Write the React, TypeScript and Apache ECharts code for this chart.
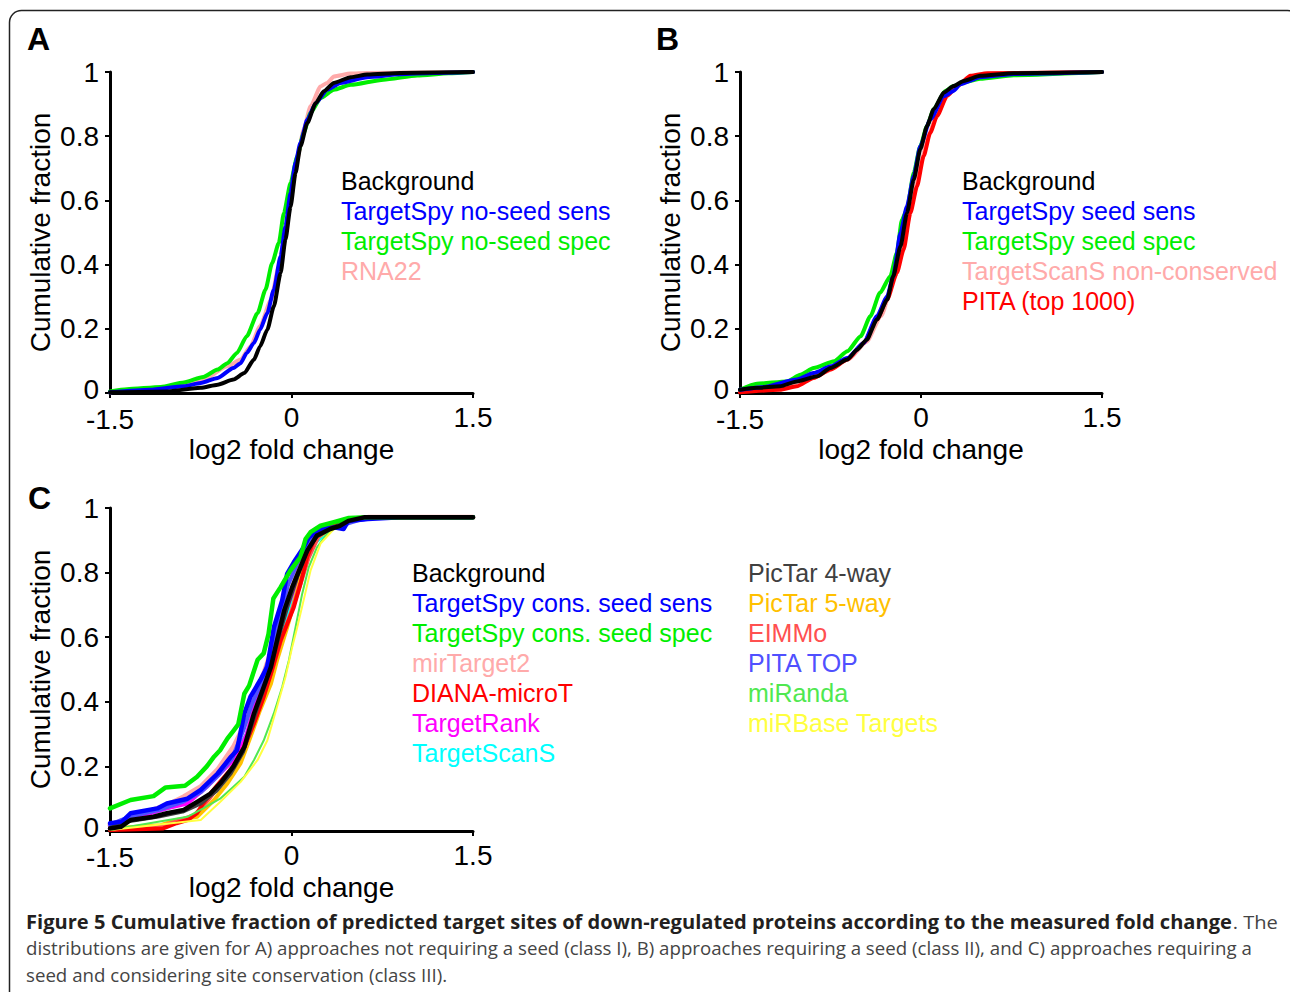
import React, { useEffect, useRef } from "react";
import * as echarts from "echarts";

// ---------------- Panel A: approaches not requiring a seed ----------------
const A_bg_x = [-1.5, -1.03, -0.75, -0.61, -0.48, -0.39, -0.31, -0.26, -0.2, -0.146, -0.09, -0.05, -0.008, 0.033, 0.074, 0.13, 0.2, 0.267, 0.35, 0.49, 0.626, 0.9, 1.5];
const A_bg_y = [0.002, 0.005, 0.016, 0.026, 0.042, 0.062, 0.104, 0.145, 0.197, 0.27, 0.374, 0.478, 0.58, 0.685, 0.768, 0.841, 0.903, 0.94, 0.966, 0.984, 0.992, 0.997, 1.0];
const A_sens_x = [-1.5, -1.17, -0.89, -0.75, -0.61, -0.48, -0.42, -0.37, -0.31, -0.26, -0.2, -0.146, -0.09, -0.05, -0.008, 0.033, 0.074, 0.13, 0.2, 0.295, 0.405, 0.626, 0.9, 1.17, 1.5];
const A_sens_y = [0.002, 0.01, 0.021, 0.031, 0.047, 0.078, 0.093, 0.125, 0.156, 0.197, 0.249, 0.322, 0.426, 0.519, 0.623, 0.717, 0.779, 0.851, 0.903, 0.945, 0.966, 0.984, 0.993, 0.997, 1.0];
const A_spec_x = [-1.5, -1.36, -1.08, -0.89, -0.73, -0.61, -0.53, -0.45, -0.37, -0.28, -0.215, -0.16, -0.105, -0.063, -0.008, 0.047, 0.1, 0.157, 0.24, 0.35, 0.49, 0.76, 1.04, 1.3, 1.5];
const A_spec_y = [0.005, 0.012, 0.019, 0.033, 0.05, 0.073, 0.093, 0.125, 0.177, 0.249, 0.322, 0.405, 0.467, 0.56, 0.654, 0.737, 0.81, 0.872, 0.919, 0.945, 0.96, 0.976, 0.989, 0.996, 1.0];
const A_rna22_x = [-1.5, -1.03, -0.75, -0.53, -0.42, -0.34, -0.26, -0.17, -0.105, -0.05, -0.008, 0.047, 0.1, 0.157, 0.24, 0.295, 0.35, 0.49, 0.626, 1.5];
const A_rna22_y = [0.002, 0.016, 0.036, 0.083, 0.104, 0.145, 0.208, 0.29, 0.395, 0.498, 0.6, 0.727, 0.82, 0.893, 0.955, 0.966, 0.986, 0.995, 0.997, 1.0];

// ---------------- Panel B: approaches requiring a seed ----------------
const B_bg_x = [-1.5, -1.36, -1.17, -1.03, -0.86, -0.75, -0.61, -0.53, -0.45, -0.365, -0.28, -0.23, -0.17, -0.116, -0.06, -0.006, 0.05, 0.105, 0.19, 0.27, 0.354, 0.49, 0.77, 1.5];
const B_bg_y = [0.01, 0.016, 0.021, 0.036, 0.052, 0.078, 0.104, 0.135, 0.166, 0.229, 0.291, 0.364, 0.457, 0.561, 0.665, 0.759, 0.832, 0.884, 0.936, 0.956, 0.972, 0.988, 0.996, 1.0];
const B_sens_x = [-1.5, -1.3, -1.03, -0.89, -0.75, -0.61, -0.475, -0.365, -0.28, -0.23, -0.17, -0.116, -0.06, -0.006, 0.077, 0.19, 0.27, 0.326, 0.49, 0.77, 1.5];
const B_sens_y = [0.01, 0.019, 0.042, 0.062, 0.083, 0.109, 0.156, 0.239, 0.301, 0.364, 0.499, 0.582, 0.676, 0.769, 0.852, 0.925, 0.941, 0.962, 0.984, 0.994, 1.0];
const B_spec_x = [-1.5, -1.36, -1.11, -1.0, -0.89, -0.72, -0.61, -0.5, -0.42, -0.34, -0.254, -0.2, -0.158, -0.116, -0.06, -0.006, 0.05, 0.105, 0.2, 0.27, 0.354, 0.49, 0.77, 1.5];
const B_spec_y = [0.01, 0.029, 0.036, 0.057, 0.078, 0.099, 0.13, 0.177, 0.239, 0.312, 0.364, 0.437, 0.54, 0.572, 0.686, 0.769, 0.832, 0.884, 0.941, 0.956, 0.968, 0.979, 0.99, 1.0];
const B_tsnc_x = [-1.5, -1.2, -1.0, -0.8, -0.6, -0.45, -0.33, -0.22, -0.14, -0.07, 0.0, 0.06, 0.13, 0.22, 0.33, 0.5, 0.8, 1.5];
const B_tsnc_y = [0.005, 0.015, 0.035, 0.065, 0.105, 0.16, 0.24, 0.36, 0.48, 0.6, 0.72, 0.8, 0.87, 0.93, 0.965, 0.988, 0.996, 1.0];
const B_pita_x = [-1.5, -1.17, -1.03, -0.89, -0.75, -0.61, -0.475, -0.365, -0.28, -0.2, -0.144, -0.088, -0.033, 0.022, 0.077, 0.133, 0.216, 0.3, 0.41, 0.55, 1.5];
const B_pita_y = [0.002, 0.01, 0.021, 0.047, 0.073, 0.104, 0.156, 0.229, 0.291, 0.374, 0.447, 0.561, 0.644, 0.738, 0.811, 0.863, 0.925, 0.956, 0.988, 0.996, 1.0];

// ---------------- Panel C: seed + site conservation ----------------
const C_bg_x = [-1.5, -1.41, -1.33, -1.14, -1.03, -0.89, -0.78, -0.67, -0.59, -0.48, -0.39, -0.31, -0.23, -0.17, -0.12, -0.06, 0.006, 0.074, 0.13, 0.21, 0.32, 0.4, 0.47, 0.6, 1.5];
const C_bg_y = [0.008, 0.013, 0.034, 0.044, 0.055, 0.065, 0.09, 0.116, 0.147, 0.2, 0.26, 0.364, 0.446, 0.508, 0.59, 0.683, 0.755, 0.817, 0.868, 0.915, 0.935, 0.945, 0.96, 0.971, 0.971];
const C_sens_x = [-1.5, -1.4, -1.33, -1.11, -1.03, -0.86, -0.75, -0.61, -0.5, -0.45, -0.39, -0.34, -0.26, -0.2, -0.146, -0.077, -0.036, 0.019, 0.1, 0.143, 0.24, 0.35, 0.43, 0.47, 0.63, 0.9, 1.5];
const C_sens_y = [0.024, 0.029, 0.055, 0.07, 0.085, 0.1, 0.127, 0.178, 0.23, 0.25, 0.364, 0.415, 0.466, 0.508, 0.63, 0.714, 0.796, 0.832, 0.878, 0.909, 0.935, 0.94, 0.935, 0.96, 0.966, 0.971, 0.971];
const C_spec_x = [-1.5, -1.33, -1.14, -1.04, -0.88, -0.78, -0.7, -0.64, -0.59, -0.53, -0.48, -0.44, -0.39, -0.35, -0.28, -0.23, -0.19, -0.15, -0.09, -0.01, 0.074, 0.116, 0.157, 0.24, 0.35, 0.474, 0.63, 1.5];
const C_spec_y = [0.07, 0.096, 0.108, 0.135, 0.14, 0.168, 0.2, 0.23, 0.25, 0.286, 0.31, 0.33, 0.425, 0.45, 0.53, 0.55, 0.61, 0.72, 0.755, 0.806, 0.848, 0.904, 0.925, 0.945, 0.956, 0.969, 0.971, 0.971];
const C_mirt2_x = [-1.5, -1.3, -1.03, -0.89, -0.75, -0.61, -0.48, -0.37, -0.28, -0.23, -0.146, -0.06, 0.019, 0.1, 0.185, 0.295, 0.49, 0.63, 1.5];
const C_mirt2_y = [0.018, 0.045, 0.08, 0.106, 0.137, 0.19, 0.26, 0.343, 0.436, 0.487, 0.58, 0.683, 0.765, 0.858, 0.92, 0.945, 0.966, 0.971, 0.971];
const C_diana_x = [-1.5, -1.06, -0.95, -0.86, -0.78, -0.73, -0.67, -0.59, -0.48, -0.39, -0.31, -0.23, -0.17, -0.09, -0.036, 0.019, 0.074, 0.13, 0.185, 0.24, 0.35, 0.49, 0.63, 1.5];
const C_diana_y = [0.003, 0.008, 0.024, 0.034, 0.055, 0.085, 0.116, 0.152, 0.2, 0.26, 0.333, 0.415, 0.487, 0.59, 0.64, 0.693, 0.765, 0.848, 0.9, 0.93, 0.95, 0.966, 0.971, 0.971];
const C_trank_x = [-1.5, -1.3, -1.03, -0.86, -0.7, -0.56, -0.45, -0.37, -0.28, -0.2, -0.12, -0.036, 0.047, 0.13, 0.21, 0.35, 0.49, 0.63, 1.5];
const C_trank_y = [0.013, 0.04, 0.07, 0.085, 0.137, 0.19, 0.23, 0.3, 0.415, 0.497, 0.6, 0.693, 0.775, 0.868, 0.92, 0.945, 0.966, 0.971, 0.971];
const C_tscan_x = [-1.5, -1.3, -1.03, -0.86, -0.7, -0.59, -0.48, -0.37, -0.28, -0.2, -0.12, -0.036, 0.047, 0.116, 0.185, 0.295, 0.4, 0.52, 0.63, 1.5];
const C_tscan_y = [0.018, 0.04, 0.07, 0.09, 0.137, 0.178, 0.225, 0.3, 0.384, 0.466, 0.57, 0.672, 0.755, 0.827, 0.89, 0.925, 0.95, 0.966, 0.971, 0.971];
const C_pic4_x = [-1.5, -1.35, -1.1, -0.9, -0.75, -0.62, -0.5, -0.4, -0.32, -0.24, -0.17, -0.1, -0.03, 0.05, 0.12, 0.2, 0.32, 0.47, 0.6, 1.5];
const C_pic4_y = [0.01, 0.03, 0.045, 0.06, 0.085, 0.125, 0.18, 0.245, 0.34, 0.43, 0.51, 0.61, 0.7, 0.79, 0.86, 0.91, 0.935, 0.96, 0.971, 0.971];
const C_pic5_x = [-1.5, -1.08, -0.95, -0.78, -0.64, -0.53, -0.42, -0.34, -0.26, -0.17, -0.12, -0.036, 0.03, 0.09, 0.15, 0.22, 0.32, 0.47, 0.6, 1.5];
const C_pic5_y = [0.008, 0.018, 0.034, 0.044, 0.096, 0.147, 0.21, 0.29, 0.374, 0.456, 0.528, 0.63, 0.72, 0.8, 0.86, 0.91, 0.935, 0.96, 0.971, 0.971];
const C_eimmo_x = [-1.5, -1.1, -0.95, -0.8, -0.68, -0.58, -0.47, -0.38, -0.3, -0.22, -0.15, -0.08, 0.0, 0.07, 0.14, 0.22, 0.33, 0.48, 0.62, 1.5];
const C_eimmo_y = [0.005, 0.012, 0.03, 0.05, 0.1, 0.15, 0.205, 0.27, 0.345, 0.43, 0.51, 0.6, 0.68, 0.76, 0.845, 0.91, 0.945, 0.965, 0.971, 0.971];
const C_pitatop_x = [-1.5, -1.33, -1.1, -0.9, -0.75, -0.6, -0.49, -0.4, -0.33, -0.25, -0.18, -0.1, -0.03, 0.05, 0.13, 0.24, 0.4, 0.55, 0.7, 1.5];
const C_pitatop_y = [0.02, 0.045, 0.065, 0.09, 0.12, 0.175, 0.225, 0.31, 0.39, 0.46, 0.54, 0.66, 0.76, 0.83, 0.89, 0.93, 0.945, 0.962, 0.971, 0.971];
const C_miranda_x = [-1.5, -0.86, -0.73, -0.59, -0.48, -0.39, -0.31, -0.23, -0.146, -0.077, -0.022, 0.033, 0.088, 0.143, 0.21, 0.295, 0.4, 0.52, 0.63, 1.5];
const C_miranda_y = [0.003, 0.044, 0.07, 0.1, 0.137, 0.168, 0.22, 0.28, 0.364, 0.446, 0.528, 0.63, 0.734, 0.817, 0.878, 0.92, 0.95, 0.966, 0.971, 0.971];
const C_mirbase_x = [-1.5, -0.75, -0.59, -0.42, -0.28, -0.2, -0.12, -0.05, 0.006, 0.047, 0.1, 0.157, 0.24, 0.35, 0.49, 0.63, 1.5];
const C_mirbase_y = [0.003, 0.034, 0.09, 0.152, 0.22, 0.28, 0.384, 0.477, 0.57, 0.63, 0.714, 0.806, 0.89, 0.935, 0.96, 0.971, 0.971];

const X_TICKS_MIN = -1.5;
const X_TICKS_MAX = 1.5;
const X_TICK_STEP = 1.5;
const Y_TICK_STEP = 0.2;

const CAPTION_BOLD = "Figure 5 Cumulative fraction of predicted target sites of down-regulated proteins according to the measured fold change";
const CAPTION_L1_REST = ". The";
const CAPTION_L2 = "distributions are given for A) approaches not requiring a seed (class I), B) approaches requiring a seed (class II), and C) approaches requiring a";
const CAPTION_L3 = "seed and considering site conservation (class III).";

const FONT = '"Liberation Sans", Arial, sans-serif';
const CAP_FONT = '"Open Sans", "Noto Sans", sans-serif';

const zip = (xs: number[], ys: number[]) => xs.map((x, i) => [x, ys[i]]);

function measure(text: string, font: string): number {
  const c = document.createElement("canvas");
  const ctx = c.getContext("2d");
  if (!ctx) return text.length * 9;
  ctx.font = font;
  return ctx.measureText(text).width;
}

export default function App() {
  const ref = useRef<HTMLDivElement>(null);

  useEffect(() => {
    if (!ref.current) return;
    const chart = echarts.init(ref.current, undefined, { renderer: "svg" });

    const grids = [
      { left: 110, top: 72, width: 363, height: 321 },
      { left: 740, top: 72, width: 362, height: 321 },
      { left: 110, top: 508, width: 363, height: 323 },
    ];

    const labelBase = { fontSize: 28, color: "#000", fontFamily: FONT, lineHeight: 31 };

    const xAxes = grids.map((_, i) => ({
      gridIndex: i,
      type: "value",
      min: X_TICKS_MIN,
      max: X_TICKS_MAX,
      interval: X_TICK_STEP,
      name: "log2 fold change",
      nameLocation: "middle",
      nameGap: 42,
      nameMoveOverlap: false,
      nameTextStyle: { fontSize: 28, color: "#000", fontFamily: FONT, lineHeight: 28 },
      axisLine: { show: true, onZero: false, lineStyle: { color: "#000", width: 3 } },
      axisTick: { show: true, length: 5, inside: false, lineStyle: { color: "#000", width: 2 } },
      axisLabel: {
        fontSize: 28,
        color: "#000",
        fontFamily: FONT,
        margin: 9,
        formatter: (v: number) => {
          const t = String(parseFloat(v.toFixed(1)));
          return v === X_TICKS_MIN ? `{m|${t}}` : `{n|${t}}`;
        },
        rich: {
          n: { ...labelBase },
          m: { ...labelBase, padding: [4, 0, 0, 0] },
        },
      },
      splitLine: { show: false },
    }));

    const yAxes = grids.map((_, i) => ({
      gridIndex: i,
      type: "value",
      min: 0,
      max: 1,
      interval: Y_TICK_STEP,
      name: "Cumulative fraction",
      nameLocation: "middle",
      nameGap: 56,
      nameMoveOverlap: false,
      nameRotate: 90,
      nameTextStyle: { fontSize: 28, color: "#000", fontFamily: FONT, lineHeight: 28 },
      axisLine: { show: true, onZero: false, lineStyle: { color: "#000", width: 3 } },
      axisTick: { show: true, length: 5, lineStyle: { color: "#000", width: 2 } },
      axisLabel: {
        fontSize: 28,
        color: "#000",
        fontFamily: FONT,
        margin: 11,
        formatter: (v: number) => (v === 0 ? "{z|0}" : String(parseFloat(v.toFixed(1)))),
        rich: { z: { fontSize: 28, color: "#000", fontFamily: FONT, padding: [0, 0, 8, 0] } },
      },
      splitLine: { show: false },
    }));

    const mk = (name: string, idx: number, xs: number[], ys: number[], color: string, width: number, smooth: number | boolean) => ({
      type: "line",
      name,
      xAxisIndex: idx,
      yAxisIndex: idx,
      data: zip(xs, ys),
      showSymbol: false,
      symbol: "none",
      smooth,
      smoothMonotone: "x",
      lineStyle: { color, width, join: "round", cap: "round" },
      itemStyle: { color },
      silent: true,
    });

    const series = [
      // A
      mk("RNA22", 0, A_rna22_x, A_rna22_y, "#ffaaaa", 4, 0.2),
      mk("TargetSpy no-seed spec", 0, A_spec_x, A_spec_y, "#00ee00", 4, 0.2),
      mk("TargetSpy no-seed sens", 0, A_sens_x, A_sens_y, "#0000ff", 4, 0.2),
      mk("Background", 0, A_bg_x, A_bg_y, "#000000", 4, 0.2),
      // B
      mk("TargetScanS non-conserved", 1, B_tsnc_x, B_tsnc_y, "#ffaaaa", 4, 0.2),
      mk("PITA (top 1000)", 1, B_pita_x, B_pita_y, "#ff0000", 4, 0.2),
      mk("TargetSpy seed spec", 1, B_spec_x, B_spec_y, "#00ee00", 4, 0.2),
      mk("TargetSpy seed sens", 1, B_sens_x, B_sens_y, "#0000ff", 4, 0.2),
      mk("Background", 1, B_bg_x, B_bg_y, "#000000", 4, 0.2),
      // C
      mk("mirTarget2", 2, C_mirt2_x, C_mirt2_y, "#ffaaaa", 5, false),
      mk("TargetScanS", 2, C_tscan_x, C_tscan_y, "#00ffff", 4, false),
      mk("TargetRank", 2, C_trank_x, C_trank_y, "#ff00ff", 4, false),
      mk("PITA TOP", 2, C_pitatop_x, C_pitatop_y, "#5050ff", 4, false),
      mk("PicTar 5-way", 2, C_pic5_x, C_pic5_y, "#ffc000", 4, false),
      mk("EIMMo", 2, C_eimmo_x, C_eimmo_y, "#ff5050", 4, false),
      mk("DIANA-microT", 2, C_diana_x, C_diana_y, "#ff0000", 4, false),
      mk("PicTar 4-way", 2, C_pic4_x, C_pic4_y, "#404040", 4, false),
      mk("miRanda", 2, C_miranda_x, C_miranda_y, "#50e850", 2, false),
      mk("miRBase Targets", 2, C_mirbase_x, C_mirbase_y, "#ffff40", 2, false),
      mk("TargetSpy cons. seed sens", 2, C_sens_x, C_sens_y, "#0000ff", 4.5, false),
      mk("TargetSpy cons. seed spec", 2, C_spec_x, C_spec_y, "#00ee00", 4.5, false),
      mk("Background", 2, C_bg_x, C_bg_y, "#000000", 4.5, false),
    ];

    const legendText = (text: string, x: number, y: number, color: string) => ({
      type: "text",
      silent: true,
      style: { text, x, y, fill: color, font: `25px ${FONT}`, textAlign: "left", textVerticalAlign: "middle" },
    });

    const legendA = [
      ["Background", "#000000"],
      ["TargetSpy no-seed sens", "#0000ff"],
      ["TargetSpy no-seed spec", "#00ee00"],
      ["RNA22", "#ffaaaa"],
    ];
    const legendB = [
      ["Background", "#000000"],
      ["TargetSpy seed sens", "#0000ff"],
      ["TargetSpy seed spec", "#00ee00"],
      ["TargetScanS non-conserved", "#ffaaaa"],
      ["PITA (top 1000)", "#ff0000"],
    ];
    const legendC1 = [
      ["Background", "#000000"],
      ["TargetSpy cons. seed sens", "#0000ff"],
      ["TargetSpy cons. seed spec", "#00ee00"],
      ["mirTarget2", "#ffaaaa"],
      ["DIANA-microT", "#ff0000"],
      ["TargetRank", "#ff00ff"],
      ["TargetScanS", "#00ffff"],
    ];
    const legendC2 = [
      ["PicTar 4-way", "#404040"],
      ["PicTar 5-way", "#ffc000"],
      ["EIMMo", "#ff5050"],
      ["PITA TOP", "#5050ff"],
      ["miRanda", "#50e850"],
      ["miRBase Targets", "#ffff40"],
    ];

    const graphics: any[] = [];
    graphics.push({
      type: "rect",
      silent: true,
      shape: { x: 9.5, y: 10.5, width: 1290, height: 1010, r: 12 },
      style: { fill: "none", stroke: "#222", lineWidth: 1.5 },
      z: -1,
    });
    legendA.forEach(([t, c], i) => graphics.push(legendText(t, 341, 181 + i * 30, c)));
    legendB.forEach(([t, c], i) => graphics.push(legendText(t, 962, 181 + i * 30, c)));
    legendC1.forEach(([t, c], i) => graphics.push(legendText(t, 412, 573 + i * 30, c)));
    legendC2.forEach(([t, c], i) => graphics.push(legendText(t, 748, 573 + i * 30, c)));

    const panelLetter = (t: string, x: number, y: number) => ({
      type: "text",
      silent: true,
      style: { text: t, x, y, fill: "#000", font: `bold 32px ${FONT}`, textAlign: "left", textVerticalAlign: "middle" },
    });
    graphics.push(panelLetter("A", 27, 39));
    graphics.push(panelLetter("B", 656, 39));
    graphics.push(panelLetter("C", 28, 498));

    // caption
    const capSize = 19;
    const wBold = measure(CAPTION_BOLD, `bold ${capSize}px "Open Sans"`);
    const wRest = measure(CAPTION_L1_REST, `${capSize}px "Open Sans"`);
    const w2 = measure(CAPTION_L2, `${capSize}px "Open Sans"`);
    const s1 = 1252 / (wBold + wRest);
    const s2 = 1226 / w2;
    graphics.push({
      type: "text",
      silent: true,
      x: 26,
      y: 922,
      scaleX: s1,
      style: {
        text: `{b|${CAPTION_BOLD}}{n|${CAPTION_L1_REST}}`,
        x: 0,
        y: 0,
        textAlign: "left",
        textVerticalAlign: "middle",
        rich: {
          b: { fontFamily: CAP_FONT, fontWeight: "bold", fontSize: capSize, fill: "#231f20", color: "#231f20" },
          n: { fontFamily: CAP_FONT, fontSize: capSize, fill: "#444", color: "#444" },
        },
      },
    });
    [CAPTION_L2, CAPTION_L3].forEach((t, i) =>
      graphics.push({
        type: "text",
        silent: true,
        x: 26,
        y: 948 + i * 27,
        scaleX: s2,
        style: { text: t, x: 0, y: 0, fill: "#444", font: `${capSize}px ${CAP_FONT}`, textAlign: "left", textVerticalAlign: "middle" },
      })
    );

    chart.setOption({
      animation: false,
      backgroundColor: "#ffffff",
      grid: grids,
      xAxis: xAxes,
      yAxis: yAxes,
      series,
      graphic: { elements: graphics },
    });

    return () => chart.dispose();
  }, []);

  return (
    <div
      ref={ref}
      style={{ position: "absolute", left: 0, top: 0, width: 1290, height: 992, background: "#fff" }}
    />
  );
}
